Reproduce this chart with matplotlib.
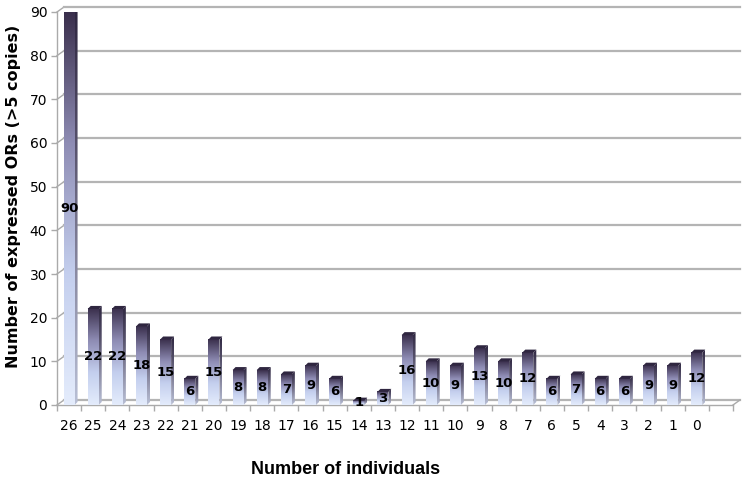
import matplotlib
matplotlib.use("Agg")
import matplotlib.pyplot as plt
import numpy as np
from matplotlib.colors import LinearSegmentedColormap
from matplotlib.patches import Polygon

individuals = [26, 25, 24, 23, 22, 21, 20, 19, 18, 17, 16, 15, 14, 13,
               12, 11, 10, 9, 8, 7, 6, 5, 4, 3, 2, 1, 0]
counts = [90, 22, 22, 18, 15, 6, 15, 8, 8, 7, 9, 6, 1, 3,
          16, 10, 9, 13, 10, 12, 6, 7, 6, 6, 9, 9, 12]
yticks = [0, 10, 20, 30, 40, 50, 60, 70, 80, 90]

front_cmap = LinearSegmentedColormap.from_list(
    "front", ["#e4ecfc", "#c4cfee", "#8e8cb4", "#3a2f4c"])
side_cmap = LinearSegmentedColormap.from_list(
    "side", ["#b9c0d6", "#8a8aa2", "#55506a", "#2e2640"])

W, H = 747, 479
fig = plt.figure(figsize=(W / 100, H / 100), dpi=100)
x_left, x_right, y_bot, y_top = 57, 733, 405, 12
ax = fig.add_axes([x_left / W, 1 - y_bot / H, (x_right - x_left) / W, (y_bot - y_top) / H])

n = len(individuals)
xmin, xmax = -0.5, n + 0.5
ax.set_xlim(xmin, xmax)
ax.set_ylim(0, 90)
for s in ax.spines.values():
    s.set_visible(False)

px_x = (x_right - x_left) / (xmax - xmin)   # pixels per x unit
px_y = (y_bot - y_top) / 90.0               # pixels per y unit

grey = "#aaaaaa"
# back wall offset (3D look)
wdx, wdy = 7 / px_x, 5 / px_y
for t in yticks:
    ax.plot([xmin, xmin + wdx], [t, t + wdy], color=grey, lw=1.0, clip_on=False, zorder=1)
    ax.plot([xmin + wdx, xmax + wdx], [t + wdy, t + wdy], color="#b4b4b4", lw=1.6,
            clip_on=False, zorder=1)
# front axes
ax.plot([xmin, xmin], [0, 90], color=grey, lw=1.0, clip_on=False, zorder=1)
ax.plot([xmin, xmax], [0, 0], color=grey, lw=1.0, clip_on=False, zorder=1)
ax.plot([xmax, xmax + wdx], [0, wdy], color=grey, lw=1.0, clip_on=False, zorder=1)

# bars with gradient and a little depth
fw = 11 / px_x
sd = 3 / px_x
td = 3 / px_y
grad = np.linspace(0, 1, 256).reshape(-1, 1)
for i, v in enumerate(counts):
    x0, x1 = i - fw / 2, i + fw / 2
    ax.imshow(grad, extent=[x0, x1, 0, v], origin="lower", aspect="auto",
              cmap=front_cmap, zorder=3, interpolation="bilinear")
    side = Polygon([[x1, 0], [x1 + sd, td], [x1 + sd, v + td], [x1, v]],
                   closed=True, facecolor="none", edgecolor="none")
    ax.add_patch(side)
    im = ax.imshow(grad, extent=[x1, x1 + sd, 0, v + td], origin="lower",
                   aspect="auto", cmap=side_cmap, zorder=3, interpolation="bilinear")
    im.set_clip_path(side)
    top = Polygon([[x0, v], [x1, v], [x1 + sd, v + td], [x0 + sd, v + td]],
                  closed=True, facecolor="#2f2640", edgecolor="none", zorder=4)
    ax.add_patch(top)
    ax.text(i, v / 2, str(v), ha="center", va="center", fontsize=9.5,
            fontweight="bold", color="black", zorder=5)

ax.set_xticks(range(n))
ax.set_xticklabels([str(k) for k in individuals], fontsize=10)
ax.set_xticks(np.arange(xmin, xmax + 0.01, 1), minor=True)
ax.tick_params(axis="x", which="major", length=0, pad=10)
ax.tick_params(axis="x", which="minor", length=4, color=grey, width=1.0)
ax.set_yticks(yticks)
ax.set_yticklabels([str(t) for t in yticks], fontsize=10)
ax.tick_params(axis="y", length=4, color=grey, width=1.0, pad=3)
ax.set_facecolor("none")

fig.text(346 / W, 1 - 469 / H, "Number of individuals", fontsize=13, fontweight="bold",
         family="Liberation Sans", ha="center", va="center")
fig.text(14 / W, 1 - 196 / H, "Number of expressed ORs (>5 copies)", fontsize=11.5,
         fontweight="bold", ha="center", va="center", rotation=90)
fig.patch.set_facecolor("white")

fig.savefig("out.png", dpi=100)
